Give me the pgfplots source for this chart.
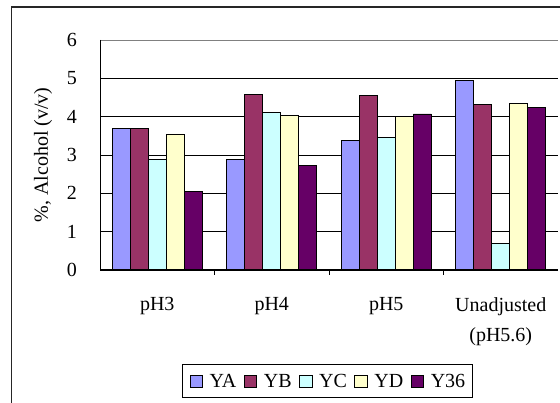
\documentclass[border=0pt]{standalone}
\usepackage{fontspec}
\setmainfont{Liberation Serif}
\usepackage{pgfplots}
\pgfplotsset{compat=1.18}

\definecolor{cYA}{HTML}{9999FF}
\definecolor{cYB}{HTML}{993366}
\definecolor{cYC}{HTML}{CCFFFF}
\definecolor{cYD}{HTML}{FFFFCC}
\definecolor{cY36}{HTML}{660066}

\newcommand{\chartfont}{\fontsize{20}{30}\selectfont}

\begin{document}
\begin{tikzpicture}
% fixed page size; the chart frame runs past the right and bottom edges
\useasboundingbox (0pt,0pt) rectangle (560pt,403pt);
\clip (0pt,0pt) rectangle (560pt,403pt);
\draw[line width=1.1pt, black!85] (11.7pt,396pt) rectangle (600pt,-30pt);
\begin{axis}[
  at={(100pt,133pt)}, anchor=south west,
  width=458pt, height=230pt, scale only axis,
  xmin=-0.5, xmax=3.5, ymin=0, ymax=6,
  ybar=0pt, bar width=18pt,
  xtick={0,1,2,3},
  xticklabels={pH3,pH4,pH5,{Unadjusted\\(pH5.6)}},
  minor xtick={0.5,1.5,2.5},
  xtick pos=bottom, ytick pos=left,
  major tick length=0pt, minor tick length=5pt,
  tick style={black, line width=0.8pt},
  ytick={0,1,2,3,4,5,6},
  ymajorgrids, grid style={black, line width=0.9pt},
  axis line style={draw=none},
  /pgf/number format/assume math mode=true,
  yticklabel style={font=\chartfont, inner sep=0pt, xshift=-23pt},
  xticklabel style={font=\chartfont, align=center, inner sep=0pt, yshift=-27pt},
  ylabel={\%, Alcohol (v/v)},
  ylabel style={font=\chartfont, at={(axis description cs:0,0.5)}, anchor=center, rotate=0, yshift=57pt},
  legend columns=5,
  legend style={at={(axis description cs:0.4967,-0.484)}, anchor=center,
    font=\chartfont, draw=black, line width=0.9pt,
    inner xsep=7.6pt, inner ysep=9pt,
    nodes={inner sep=0pt},
    /tikz/every odd column/.append style={column sep=6.7pt},
    /tikz/every even column/.append style={column sep=7.6pt}},
  legend image code/.code={\draw[#1, draw=black, line width=0.8pt] (0pt,-6.2pt) rectangle (12.4pt,6.2pt);},
  every axis plot/.append style={draw=black, line width=0.8pt},
]
\addplot[fill=cYA] coordinates {(0,3.69) (1,2.89) (2,3.37) (3,4.94)};
\addplot[fill=cYB] coordinates {(0,3.69) (1,4.58) (2,4.55) (3,4.31)};
\addplot[fill=cYC] coordinates {(0,2.89) (1,4.10) (2,3.45) (3,0.70)};
\addplot[fill=cYD] coordinates {(0,3.55) (1,4.03) (2,4.00) (3,4.34)};
\addplot[fill=cY36] coordinates {(0,2.06) (1,2.72) (2,4.07) (3,4.24)};
\legend{YA,YB,YC,YD,Y36}
% plot area border and the two axis lines
\draw[gray, line width=0.9pt] (axis cs:-0.5,6) -- (axis cs:3.5,6) -- (axis cs:3.5,0);
\draw[black, line width=1pt] (axis cs:-0.5,6) -- (axis cs:-0.5,0) -- (axis cs:3.5,0);
\end{axis}
\end{tikzpicture}
\end{document}
